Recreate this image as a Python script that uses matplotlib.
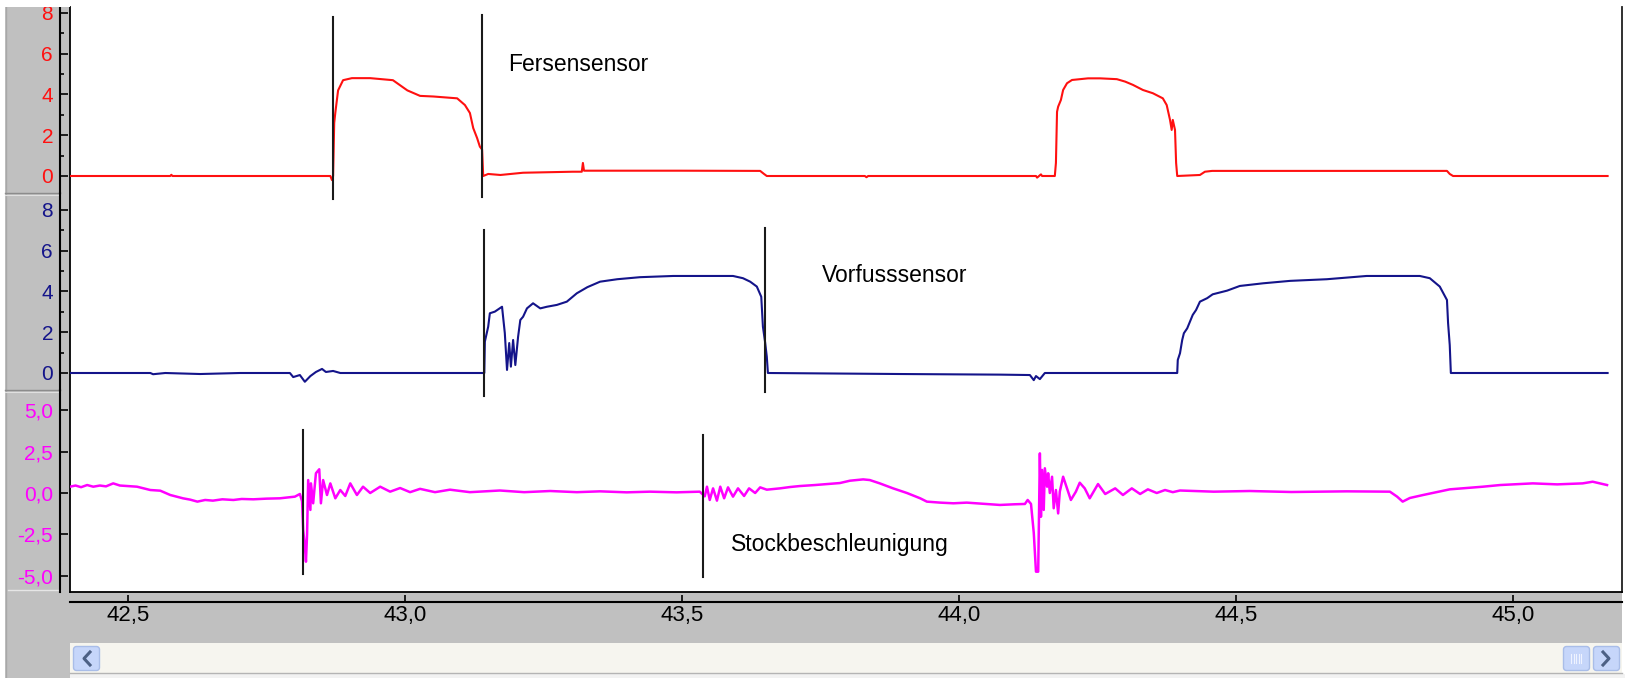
import matplotlib
matplotlib.use("Agg")
import matplotlib.pyplot as plt
from matplotlib.patches import Rectangle, FancyBboxPatch
from matplotlib.ticker import FixedLocator, MultipleLocator, FuncFormatter

plt.rcParams["font.family"] = ["Liberation Sans", "DejaVu Sans"]

# Heel sensor (Fersensensor): time in s, signal in V
HEEL_T = [42.395, 42.576, 42.578, 42.580, 42.865, 42.868, 42.870, 42.872,
          42.874, 42.879, 42.888, 42.904, 42.937, 42.978, 43.004, 43.027,
          43.051, 43.094, 43.108, 43.117, 43.123, 43.130, 43.135, 43.139,
          43.141, 43.150, 43.172, 43.213, 43.303, 43.319, 43.321, 43.323,
          43.496, 43.641, 43.648, 43.653, 43.830, 43.833, 43.836, 44.139,
          44.141, 44.148, 44.150, 44.173, 44.175, 44.177, 44.179, 44.184,
          44.188, 44.195, 44.204, 44.233, 44.255, 44.285, 44.300, 44.314,
          44.332, 44.350, 44.368, 44.375, 44.381, 44.384, 44.386, 44.390,
          44.392, 44.394, 44.435, 44.444, 44.457, 44.881, 44.886, 44.892,
          45.171]
HEEL_V = [0.0, 0.0, 0.06, 0.0, 0.0, -0.2, 0.0, 2.6,
          3.1, 4.2, 4.7, 4.8, 4.8, 4.7, 4.2, 3.93,
          3.9, 3.81, 3.48, 3.09, 2.35, 1.86, 1.44, 1.3,
          0.0, 0.1, 0.05, 0.16, 0.21, 0.21, 0.64, 0.26,
          0.26, 0.25, 0.1, 0.0, 0.0, -0.06, 0.0, 0.0,
          -0.08, 0.08, 0.0, 0.0, 0.64, 3.15, 3.4, 3.73,
          4.22, 4.55, 4.71, 4.79, 4.79, 4.75, 4.63, 4.47,
          4.22, 4.06, 3.81, 3.48, 2.75, 2.26, 2.75, 2.26,
          0.64, 0.0, 0.05, 0.21, 0.25, 0.25, 0.1, 0.0,
          0.0]

# Forefoot sensor (Vorfusssensor)
FORE_T = [42.395, 42.540, 42.545, 42.567, 42.630, 42.702, 42.792, 42.798,
          42.810, 42.819, 42.829, 42.839, 42.850, 42.857, 42.870, 42.883,
          43.143, 43.144, 43.150, 43.153, 43.162, 43.175, 43.180, 43.184,
          43.188, 43.191, 43.195, 43.199, 43.204, 43.208, 43.213, 43.220,
          43.231, 43.244, 43.256, 43.274, 43.292, 43.310, 43.329, 43.352,
          43.383, 43.424, 43.484, 43.592, 43.610, 43.623, 43.635, 43.643,
          43.646, 43.650, 43.653, 43.655, 43.894, 44.074, 44.128, 44.135,
          44.139, 44.146, 44.155, 44.394, 44.395, 44.399, 44.403, 44.406,
          44.412, 44.417, 44.422, 44.428, 44.435, 44.448, 44.458, 44.484,
          44.507, 44.549, 44.598, 44.664, 44.736, 44.832, 44.850, 44.868,
          44.881, 44.883, 44.886, 44.888, 45.171]
FORE_V = [0.0, 0.0, -0.06, 0.0, -0.05, 0.0, 0.0, -0.2,
          -0.1, -0.43, -0.15, 0.05, 0.2, 0.05, 0.1, 0.0,
          0.0, 1.54, 2.27, 2.93, 3.01, 3.25, 1.96, 0.15,
          1.47, 0.31, 1.62, 0.39, 1.78, 2.6, 2.76, 3.17,
          3.42, 3.17, 3.25, 3.34, 3.5, 3.91, 4.21, 4.48,
          4.6, 4.7, 4.76, 4.76, 4.65, 4.48, 4.24, 3.74,
          2.27, 1.5, 0.8, 0.0, -0.05, -0.08, -0.1, -0.35,
          -0.15, -0.3, 0.0, 0.0, 0.64, 0.97, 1.62, 1.95,
          2.19, 2.52, 2.85, 3.09, 3.5, 3.67, 3.86, 4.04,
          4.27, 4.4, 4.52, 4.6, 4.76, 4.76, 4.65, 4.24,
          3.58, 2.45, 1.37, 0.0, 0.0]

# Pole acceleration (Stockbeschleunigung)
ACC_T = [42.395, 42.405, 42.415, 42.426, 42.437, 42.449, 42.460, 42.473,
         42.485, 42.498, 42.516, 42.540, 42.558, 42.576, 42.599, 42.612,
         42.625, 42.639, 42.653, 42.670, 42.690, 42.705, 42.726, 42.750,
         42.774, 42.801, 42.810, 42.814, 42.816, 42.819, 42.821, 42.823,
         42.825, 42.829, 42.830, 42.834, 42.839, 42.845, 42.848, 42.852,
         42.859, 42.865, 42.874, 42.883, 42.892, 42.901, 42.913, 42.924,
         42.937, 42.955, 42.973, 42.991, 43.009, 43.027, 43.054, 43.081,
         43.117, 43.171, 43.215, 43.262, 43.310, 43.352, 43.400, 43.442,
         43.490, 43.532, 43.541, 43.545, 43.550, 43.556, 43.563, 43.569,
         43.576, 43.583, 43.592, 43.601, 43.612, 43.621, 43.632, 43.641,
         43.653, 43.677, 43.695, 43.713, 43.740, 43.762, 43.785, 43.803,
         43.827, 43.839, 43.857, 43.881, 43.906, 43.930, 43.942, 43.966,
         43.990, 44.014, 44.047, 44.074, 44.100, 44.119, 44.124, 44.130,
         44.135, 44.139, 44.143, 44.144, 44.146, 44.148, 44.150, 44.153,
         44.155, 44.159, 44.161, 44.164, 44.168, 44.171, 44.175, 44.179,
         44.182, 44.188, 44.193, 44.202, 44.211, 44.218, 44.227, 44.236,
         44.251, 44.264, 44.282, 44.296, 44.312, 44.327, 44.341, 44.357,
         44.372, 44.386, 44.399, 44.460, 44.525, 44.600, 44.700, 44.778,
         44.791, 44.801, 44.814, 44.838, 44.886, 44.946, 44.977, 45.036,
         45.080, 45.126, 45.144, 45.170]
ACC_V = [0.38, 0.45, 0.35, 0.48, 0.38, 0.45, 0.40, 0.58,
         0.45, 0.42, 0.38, 0.18, 0.14, -0.12, -0.32, -0.40,
         -0.52, -0.42, -0.46, -0.38, -0.42, -0.36, -0.38, -0.34,
         -0.32, -0.22, -0.06, -0.5, -2.23, -3.2, -4.14, -2.5,
         0.78, -1.02, 0.58, -0.62, 1.19, 1.43, -0.62, 0.78,
         -0.12, 0.58, -0.32, 0.18, -0.18, 0.58, -0.12, 0.38,
         0.0, 0.38, 0.08, 0.3, 0.05, 0.25, 0.05, 0.2,
         0.05, 0.15, 0.05, 0.12, 0.05, 0.1, 0.04, 0.08,
         0.04, 0.08, -0.2, 0.38, -0.42, 0.28, -0.46, 0.38,
         -0.32, 0.34, -0.22, 0.28, -0.18, 0.28, 0.0, 0.34,
         0.2, 0.28, 0.36, 0.42, 0.48, 0.54, 0.6, 0.74,
         0.82, 0.78, 0.58, 0.28, 0.0, -0.32, -0.52, -0.58,
         -0.62, -0.58, -0.66, -0.72, -0.68, -0.66, -0.42, -0.66,
         -2.4, -4.74, -4.74, -2.4, 2.39, -1.43, 1.39, -1.02,
         1.49, 0.38, 1.19, 0.0, 0.98, -0.92, 0.18, -1.23,
         0.08, 0.98, 0.48, -0.42, 0.08, 0.62, 0.28, -0.32,
         0.54, -0.06, 0.28, -0.12, 0.28, -0.06, 0.22, 0.0,
         0.18, 0.05, 0.15, 0.08, 0.12, 0.06, 0.1, 0.08,
         -0.22, -0.52, -0.3, -0.12, 0.22, 0.38, 0.48, 0.58,
         0.52, 0.58, 0.68, 0.48]

# cursor markers per channel (s)
HEEL_MARKS = [42.870, 43.139]
FORE_MARKS = [43.143, 43.650]
ACC_MARKS = [42.815, 43.538]

X_TICKS = [42.5, 43.0, 43.5, 44.0, 44.5, 45.0]
ACC_TICKS = [-5.0, -2.5, 0.0, 2.5, 5.0]

RED = "#ff1010"
NAVY = "#14148a"
MAGENTA = "#ff00ff"
GREY = "#c0c0c0"

W, H = 1625, 678
fig = plt.figure(figsize=(W / 100, H / 100), dpi=100)


def box(x0, y0, x1, y1):
    return [x0 / W, 1 - y1 / H, (x1 - x0) / W, (y1 - y0) / H]


# window chrome in pixel coordinates
ui = fig.add_axes([0, 0, 1, 1], zorder=0)
ui.set_xlim(0, W)
ui.set_ylim(H, 0)
ui.axis("off")
ui.add_patch(Rectangle((5, 7), 65, H - 7, fc=GREY, ec="none"))
ui.add_patch(Rectangle((70, 592), 1552, 51, fc=GREY, ec="none"))
ui.add_patch(Rectangle((70, 7), 1552, 585, fc="white", ec="none"))
ui.plot([5.5, 5.5], [7, H], color="#a8a8a8", lw=1)
for yy in (193, 390):
    ui.plot([5, 60], [yy, yy], color="#8c8c8c", lw=1)
    ui.plot([5, 60], [yy + 1.5, yy + 1.5], color="#e0e0e0", lw=0.8)
ui.plot([8, 60], [590, 590], color="#e6e6e6", lw=1)
ui.plot([70, 70], [7, 592], color="black", lw=1.3)
ui.plot([1622, 1622], [7, 592], color="#202020", lw=1.3)
ui.plot([70, 1622], [592, 592], color="black", lw=1.3)

# scrollbar
ui.add_patch(Rectangle((70, 643), 1552, 30, fc="#f6f5ef", ec="none"))
ui.plot([70, 1622], [673, 673], color="#b4b4b4", lw=1)
ui.add_patch(Rectangle((70, 674), 1555, 4, fc="#f2f2f2", ec="none"))
for bx in (73, 1563, 1593):
    ui.add_patch(FancyBboxPatch((bx + 1, 647), 25, 23,
                                boxstyle="round,pad=0.5,rounding_size=3",
                                fc="#c6d6fa", ec="#a9bde8", lw=1))
ui.plot([90, 84, 90], [652, 658.5, 665], color="#4d6185", lw=2.2)
ui.plot([1603, 1609, 1603], [652, 658.5, 665], color="#4d6185", lw=2.2)
for gx in (1571, 1573.5, 1576, 1578.5, 1581):
    ui.plot([gx, gx], [654, 663], color="#eef3ff", lw=0.8)

# top margin hides the upper half of the first tick label
fig.add_artist(Rectangle((0, 1 - 7 / H), 70 / W, 7 / H,
                         transform=fig.transFigure, fc="white", ec="none", zorder=5))

XLIM = (42.395, 45.197)
ax_h = fig.add_axes(box(70, 7, 1622, 193), zorder=1, facecolor="none")
ax_f = fig.add_axes(box(70, 193, 1622, 390), zorder=1, facecolor="none")
ax_a = fig.add_axes(box(70, 390, 1622, 592), zorder=1, facecolor="none")

ax_h.set_ylim(-0.834, 8.29)
ax_f.set_ylim(-0.834, 8.83)
ax_a.set_ylim(-5.964, 6.205)

for ax, color in ((ax_h, RED), (ax_f, NAVY), (ax_a, MAGENTA)):
    ax.set_xlim(*XLIM)
    for side in ("top", "right", "bottom"):
        ax.spines[side].set_visible(False)
    ax.spines["left"].set_position(("outward", 7.2))
    ax.spines["left"].set_linewidth(1.5)
    ax.tick_params(axis="y", which="major", direction="in", length=5.8,
                   width=1.2, pad=5, labelsize=15, labelcolor=color)
    ax.tick_params(axis="y", which="minor", direction="in", length=3,
                   width=1.2)
    ax.tick_params(axis="x", which="both", bottom=False, labelbottom=False)

for ax in (ax_h, ax_f):
    ax.yaxis.set_major_locator(MultipleLocator(2))
    ax.yaxis.set_minor_locator(MultipleLocator(1))
    ax.yaxis.set_major_formatter(FuncFormatter(lambda v, p: f"{v:.0f}"))

comma = FuncFormatter(lambda v, p: f"{v:.1f}".replace(".", ","))
ax_a.yaxis.set_major_locator(FixedLocator(ACC_TICKS))
ax_a.yaxis.set_major_formatter(comma)

ax_a.spines["bottom"].set_visible(True)
ax_a.spines["bottom"].set_position(("outward", 7.2))
ax_a.spines["bottom"].set_linewidth(1.5)
ax_a.xaxis.set_major_locator(FixedLocator(X_TICKS))
ax_a.xaxis.set_major_formatter(comma)
ax_a.tick_params(axis="x", which="major", bottom=True, labelbottom=True,
                 direction="in", length=5, width=1.2, pad=2, labelsize=16,
                 labelcolor="black")

ax_h.plot(HEEL_T, HEEL_V, color=RED, lw=1.5)
ax_f.plot(FORE_T, FORE_V, color=NAVY, lw=1.5)
ax_a.plot(ACC_T, ACC_V, color=MAGENTA, lw=1.8)

# cursor lines, drawn past the channel borders
cursor_spans = {
    ax_h: (HEEL_MARKS, [(-1.13, 7.80), (-1.03, 7.88)]),
    ax_f: (FORE_MARKS, [(-1.13, 7.02), (-0.93, 7.12)]),
    ax_a: (ACC_MARKS, [(-4.88, 3.80), (-5.06, 3.49)]),
}
for ax, (marks, spans) in cursor_spans.items():
    for t, (lo, hi) in zip(marks, spans):
        ax.plot([t, t], [lo, hi], color="#1a1a1a", lw=1.5, clip_on=False)

ax_h.text(43.186, 5.45, "Fersensensor", fontsize=16.5, va="center", ha="left")
ax_f.text(43.753, 4.76, "Vorfusssensor", fontsize=16.5, va="center", ha="left")
ax_a.text(43.588, -3.13, "Stockbeschleunigung", fontsize=16.5,
          va="center", ha="left")

fig.savefig("out.png", dpi=100)
